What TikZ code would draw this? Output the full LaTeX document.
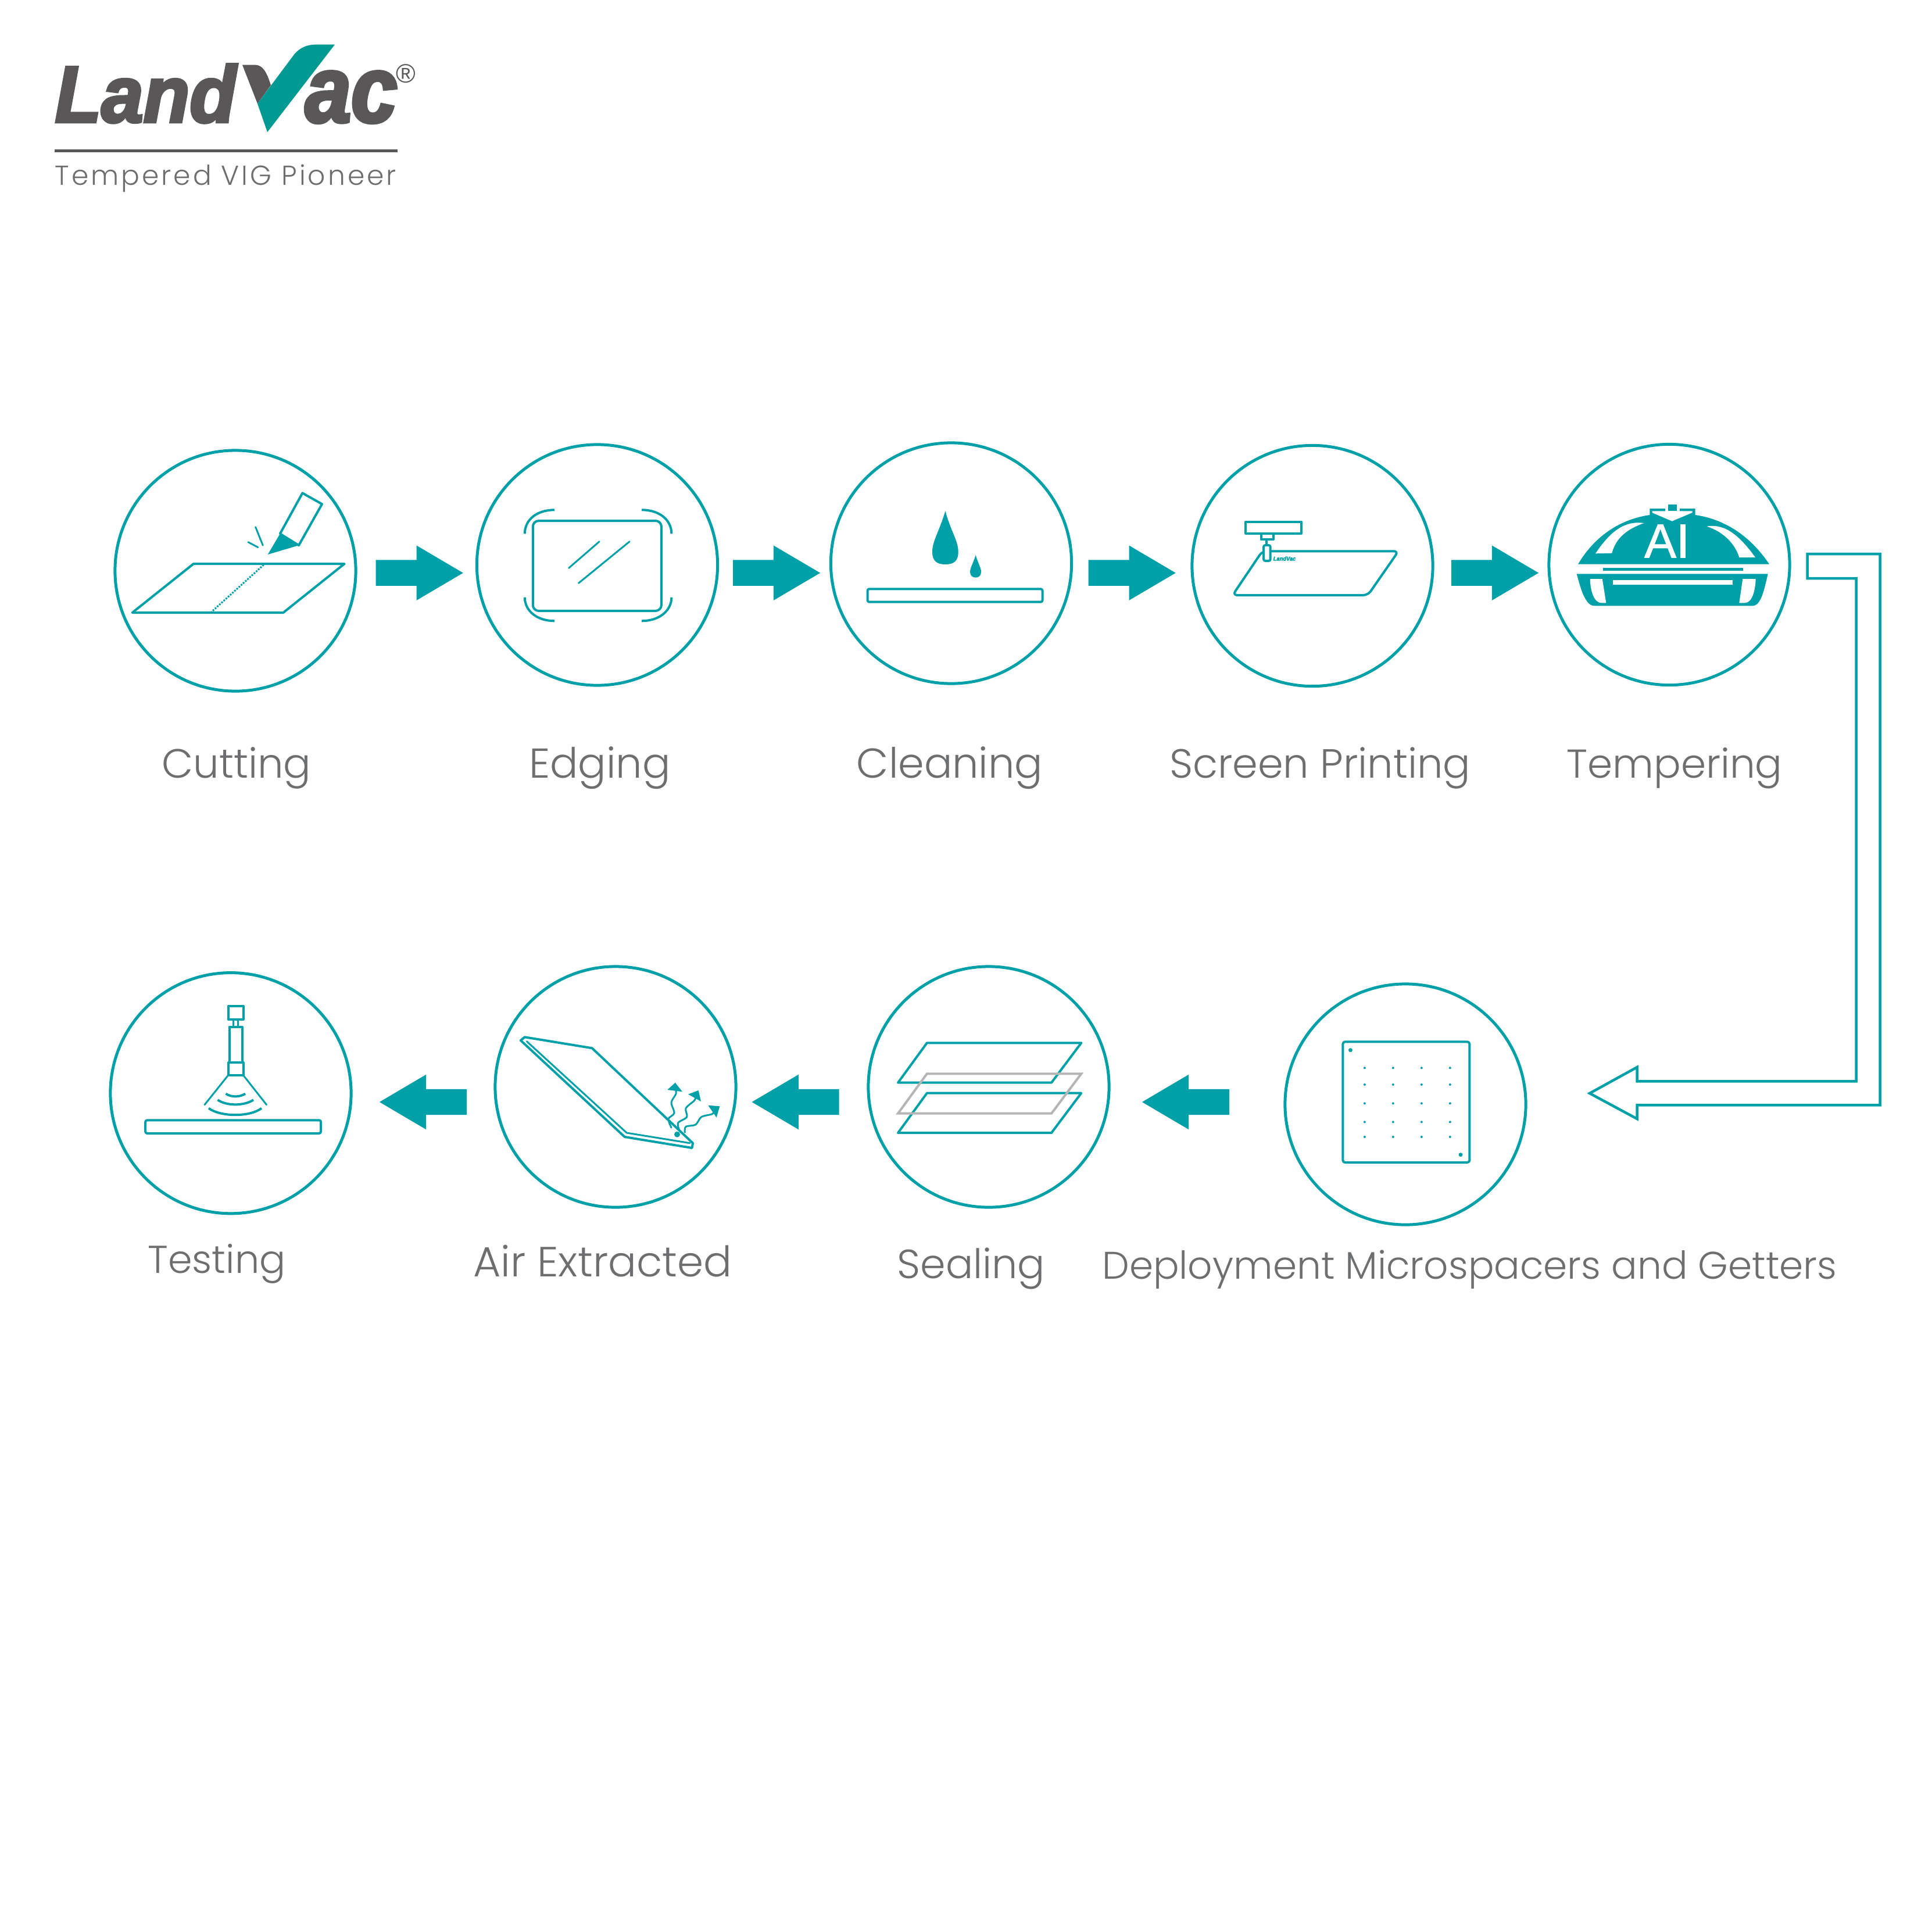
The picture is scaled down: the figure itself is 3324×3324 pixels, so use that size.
\documentclass[tikz,border=0pt]{standalone}
\usepackage{fontspec}
\usetikzlibrary{shapes.arrows}
\newfontfamily\labelfont[UprightFont=* Light]{Poppins}
\newfontfamily\tagfont[UprightFont=* Light,LetterSpace=8.5]{Poppins}
\newfontfamily\logofont[FakeBold=3.5,FakeStretch=0.95]{Liberation Sans}
\newfontfamily\logoacfont[FakeBold=3.5,FakeStretch=0.88]{Liberation Sans}
\newfontfamily\aifont[FakeBold=1.2]{Liberation Sans}
\newfontfamily\regfont{Liberation Sans}
\definecolor{tealmain}{HTML}{00A0A9}
\definecolor{checkgreen}{HTML}{009A93}
\definecolor{logogray}{HTML}{595757}
\definecolor{labelgray}{HTML}{6D6E70}
\definecolor{sheetgray}{HTML}{B5B5B5}
\tikzset{
  ring/.style={circle, draw=tealmain, line width=0.05cm, minimum size=4.14cm, inner sep=0pt, outer sep=0pt},
  lbl/.style={anchor=base, text=labelgray, inner sep=0pt},
  iconline/.style={draw=tealmain, line width=0.04cm, line join=round},
  thinline/.style={draw=tealmain, line width=0.03cm, line cap=round},
  blockarrow/.style={single arrow, fill=tealmain, anchor=tail, inner xsep=0pt, inner ysep=0.215cm, outer sep=0pt,
    minimum width=0.93cm, minimum height=1.5cm, single arrow head extend=0.25cm,
    single arrow tip angle=61, single arrow head indent=0cm},
}
\begin{document}
\begin{tikzpicture}[x=0.01cm, y=-0.01cm]
  \fill[white] (0,0) rectangle (3324,3324);
  \useasboundingbox (0,0) rectangle (3324,3324);

  \fill[logogray] (417,111.7) -- (439.5,111.7) .. controls (452,112) and (459,124) .. (466,146.7) -- (443,178.3) -- cycle;
  \fill[checkgreen] (460,227.3) -- (576,76.7) -- (542,76.7) .. controls (528,77) and (516,82) .. (506.4,93.3) -- (443,178.3) -- cycle;
  \node[anchor=base west, inner sep=0pt, text=logogray, font=\logofont\bfseries\itshape\fontsize{39}{40}\selectfont] (logoland) at (94,210) {Land};
  \node[anchor=base east, inner sep=0pt, text=logogray, font=\logoacfont\bfseries\itshape\fontsize{46}{48}\selectfont] (logoac) at (684,210) {ac};
  \node[inner sep=0pt, text=logogray, font=\regfont\fontsize{13}{14}\selectfont] (logoreg) at (698,127) {®};
  \fill[logogray] (94.4,257.2) rectangle (684,262.2);
  \node[anchor=base west, inner sep=0pt, text=labelgray, font=\tagfont\fontsize{13.4}{15}\selectfont] (logotag) at (94,318) {Tempered VIG Pioneer};

  \foreach \nm/\cx/\cy in {cut/405/982, edge/1027.5/972, clean/1636.5/969, screen/2258/973.5, temper/2872/971.5,
      test/397/1880.7, air/1059/1870, seal/1701/1870, deploy/2418/1900}{
    \node[ring] (\nm) at (\cx,\cy) {};}

  \foreach \nm/\lx/\ly/\fs/\txt in {cut/407/1338/20/Cutting, edge/1032/1338/20.4/Edging, clean/1634/1338/20.4/Cleaning,
      screen/2271/1338/19.95/Screen Printing, temper/2881/1338/19.7/Tempering,
      test/373/2190.7/19/Testing, air/1037/2196.7/20.6/Air Extracted, seal/1671/2199/19.9/Sealing,
      deploy/2528.5/2200.7/18.8/Deployment Microspacers and Getters}{
    \node[lbl, font=\labelfont\fontsize{\fs}{24}\selectfont] (lab\nm) at (\lx,\ly) {\txt};}

  \foreach \nm/\tx in {a/646.7, b/1261, c/1872.6, d/2497}{
    \node[blockarrow] (arr\nm) at (\tx,985.7) {};}
  \foreach \nm/\tx in {e/803, f/1443.7, g/2115}{
    \node[blockarrow, shape border rotate=180] (arr\nm) at (\tx,1896) {};}

  \draw[tealmain, line width=0.045cm, line join=miter] (3109.6,953) -- (3234.6,953) -- (3234.6,1901.3) -- (2816.7,1901.3) -- (2816.7,1925)
    -- (2735,1881) -- (2816.7,1836) -- (2816.7,1860.3) -- (3193.6,1860.3) -- (3193.6,995) -- (3109.6,995) -- cycle;

  \draw[iconline] (333,970) -- (592.6,970) -- (487.4,1054) -- (227.7,1054) -- cycle;
  \draw[tealmain, line width=0.03cm, dash pattern=on 0.03cm off 0.02cm] (453.7,971.7) -- (363.9,1052.7);
  \draw[iconline] (520.4,848.3) -- (554,867.3) -- (514,938.3) -- (481.8,918.3) -- cycle;
  \fill[tealmain] (481.8,918.3) -- (514,938.3) -- (460.7,954) -- cycle;
  \draw[thinline] (439.6,906.7) -- (452.3,938.3) (427,932.7) -- (443.9,941.7);

  \draw[iconline, rounded corners=0.1cm] (916.8,896) rectangle (1137.9,1051);
  \draw[thinline] (1031.2,931.7) -- (978.6,977.3) (1083.2,931.7) -- (995.4,1003.3);
  \draw[iconline] (902.8,918.3) .. controls (903,893) and (925,877.3) .. (954,877.3);
  \draw[iconline] (1104,877.3) .. controls (1133,877.3) and (1155,893) .. (1155.4,918.3);
  \draw[iconline] (902.8,1027.7) .. controls (903,1052) and (925,1068.3) .. (954,1068.3);
  \draw[iconline] (1104,1068.3) .. controls (1133,1068.3) and (1155,1052) .. (1155.4,1027.7);

  \draw[iconline, rounded corners=0.03cm] (1492.5,1013.3) rectangle (1793.5,1035.7);
  \fill[tealmain] (1626.4,879) .. controls (1616,915) and (1604,930) .. (1604,950) .. controls (1604,965) and (1612,971) .. (1626.4,971)
    .. controls (1641,971) and (1648.7,965) .. (1648.7,950) .. controls (1648.7,930) and (1636,915) .. cycle;
  \fill[tealmain] (1678.7,955) .. controls (1674,970) and (1669,977) .. (1669,984) .. controls (1669,990) and (1673,993.7) .. (1678.7,993.7)
    .. controls (1684,993.7) and (1688,990) .. (1688,984) .. controls (1688,977) and (1683,970) .. cycle;

  \draw[iconline, rounded corners=0.08cm] (2171.7,948.3) -- (2406,948.3) -- (2353.5,1024) -- (2120.7,1024) -- cycle;
  \draw[iconline] (2143,897.7) rectangle (2238.7,917.7);
  \draw[iconline] (2169.8,918) rectangle (2190.8,928);
  \draw[iconline] (2179.3,928) -- (2179.3,938);
  \filldraw[iconline, fill=white, rounded corners=0.03cm] (2174,938) rectangle (2185.7,965);
  \node[inner sep=0pt, text=tealmain, font=\logofont\bfseries\itshape\fontsize{2.8}{3}\selectfont] (minilogo) at (2210,961) {LandVac};

  \fill[tealmain] (2715,970.7) .. controls (2745,920) and (2790,893) .. (2838.3,886) -- (2838.3,875) -- (2916.7,875) -- (2916.7,886)
    .. controls (2965,893) and (3010,920) .. (3044,970.7) -- cycle;
  \fill[white] (2842.5,879.3) -- (2911.5,879.3) -- (2911.5,882) -- (2876.7,896.7) -- (2842.5,882) -- cycle;
  \fill[white] (2865,874) rectangle (2890,880);
  \fill[tealmain] (2870,868.3) rectangle (2885,879);
  \fill[white] (2745,952.3) .. controls (2770,915) and (2795,895) .. (2828.3,900) .. controls (2800,910) and (2780,925) .. (2773.3,951.7) -- cycle;
  \fill[white] (3020,959) .. controls (2995,925) and (2970,900) .. (2936.7,905.7) .. controls (2965,915) and (2985,935) .. (2992.3,959) -- cycle;
  \node[inner sep=0pt, text=white, font=\aifont\fontsize{23.4}{24}\selectfont] (aitext) at (2868,931) {AI};
  \fill[tealmain] (2758.3,976.7) rectangle (2999.3,981.7);
  \fill[tealmain] (2712.7,987.3) -- (3041.7,987.3) .. controls (3035,1015) and (3030,1042.3) .. (3015,1042.3) -- (2743,1042.3)
    .. controls (2728,1042.3) and (2720,1015) .. cycle;
  \fill[white] (2775,998.3) rectangle (2981,1005.7);
  \fill[white] (2735.7,996) -- (2756.7,996) -- (2763.3,1037.3) -- (2755,1037.3) .. controls (2742,1037) and (2736,1015) .. cycle;
  \fill[white] (3020.7,996) -- (2998.3,996) -- (2992.3,1037.3) -- (3002,1037.3) .. controls (3015,1037) and (3020,1015) .. cycle;

  \draw[iconline, rounded corners=0.03cm] (250.2,1927.3) rectangle (552,1950);
  \draw[iconline] (392.6,1731) rectangle (418.6,1754);
  \draw[thinline] (401.8,1754) -- (401.8,1766) (409.5,1754) -- (409.5,1766);
  \draw[iconline] (394.7,1766.7) rectangle (416.5,1828);
  \draw[iconline] (392.6,1828) rectangle (418.6,1850);
  \draw[thinline] (392.6,1850) -- (352,1900.7) (418.6,1850) -- (458.6,1900.7);
  \draw[iconline] (388.4,1881.7) .. controls (398,1888) and (412,1888) .. (422,1881.7);
  \draw[iconline] (374.4,1892.3) .. controls (390,1903) and (420,1903) .. (436,1892.3);
  \draw[iconline] (359,1906.7) .. controls (380,1922) and (430,1922) .. (450,1906.7);

  \draw[iconline] (902.8,1784.3) -- (1018.6,1803.3) -- (1192,1966.7) -- (1190.5,1975) -- (1074.7,1956) -- (895.8,1790) -- cycle;
  \draw[thinline] (906.3,1791.7) -- (1078.2,1949) -- (1187,1966.7);
  \fill[tealmain] (1165,1951.7) circle (5);
  \draw[thinline] plot[smooth] coordinates {(1155,1940) (1150,1925) (1160,1915) (1155,1896.7) (1163,1881.7) (1161.7,1870)};
  \fill[tealmain] (1161.7,1862.7) -- (1148.3,1875) -- (1174,1878.3) -- cycle;
  \draw[thinline] plot[smooth] coordinates {(1168.3,1943.3) (1166.7,1931.7) (1181.7,1921.7) (1180,1906.7) (1195,1893) (1197,1885)};
  \fill[tealmain] (1201.7,1876) -- (1184,1882.7) -- (1206,1895) -- cycle;
  \draw[thinline] plot[smooth] coordinates {(1178.3,1948.3) (1180,1938.3) (1196.7,1935) (1206.7,1921.7) (1225,1916.7) (1231,1910)};
  \fill[tealmain] (1238.3,1903.3) -- (1218.3,1901.7) -- (1232.7,1922.7) -- cycle;

  \foreach \sy in {1794.3, 1880.7}{
    \draw[iconline] (1594.8,\sy) -- (1860.3,\sy) -- (1809,\sy+68.4) -- (1545,\sy+68.4) -- cycle;}
  \draw[sheetgray, line width=0.04cm, line join=miter] (1594.8,1847.3) -- (1860.3,1847.3) -- (1809,1915.7) -- (1545,1915.7) -- cycle;

  \draw[iconline, rounded corners=0.04cm] (2310.3,1792.3) rectangle (2528.4,2000);
  \fill[tealmain] (2323.4,1806.7) circle (3.5) (2513,1986.7) circle (3.5);
  \foreach \dx in {2347.8, 2396.8, 2445.8, 2494.8}{
    \foreach \dy in {1837.3, 1866, 1898.3, 1930.3, 1956}{
      \fill[tealmain] (\dx,\dy) circle (2);}}
\end{tikzpicture}
\end{document}
